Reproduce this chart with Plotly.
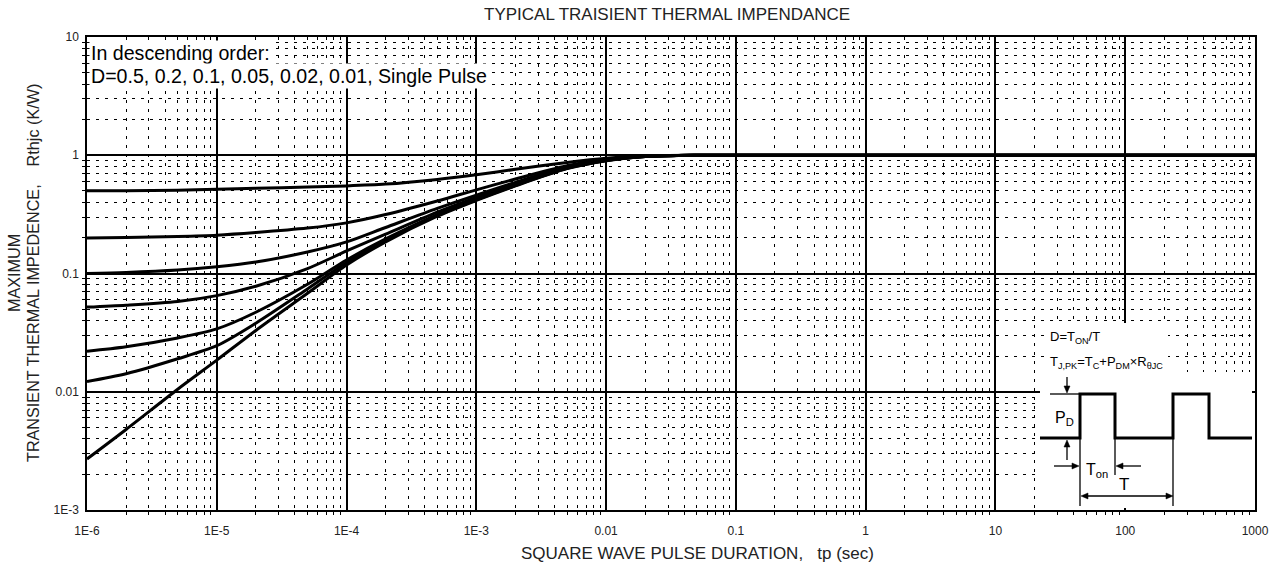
import plotly.graph_objects as go

# ---------------- data ----------------
tp = [1e-6, 2e-6, 5e-6, 1e-5, 2e-5, 5e-5, 1e-4, 2e-4, 5e-4, 1e-3, 2e-3, 5e-3,
      1e-2, 2e-2, 5e-2, 1e-1, 1e3]

z_d05 = [0.5, 0.502, 0.507, 0.515, 0.525, 0.538, 0.55, 0.57, 0.625, 0.685, 0.76, 0.87,
         0.945, 0.988, 1.0, 1.0, 1.0]
z_d02 = [0.2, 0.202, 0.206, 0.211, 0.222, 0.242, 0.268, 0.315, 0.41, 0.51, 0.63, 0.815,
         0.925, 0.982, 1.0, 1.0, 1.0]
z_d01 = [0.1, 0.102, 0.107, 0.114, 0.125, 0.152, 0.185, 0.245, 0.355, 0.46, 0.59, 0.795,
         0.915, 0.98, 1.0, 1.0, 1.0]
z_d005 = [0.052, 0.054, 0.058, 0.065, 0.078, 0.11, 0.155, 0.215, 0.33, 0.44, 0.575, 0.785,
          0.91, 0.978, 1.0, 1.0, 1.0]
z_d002 = [0.022, 0.024, 0.0285, 0.034, 0.047, 0.081, 0.13, 0.196, 0.315, 0.425, 0.56, 0.78,
          0.905, 0.977, 1.0, 1.0, 1.0]
z_d001 = [0.0122, 0.0142, 0.019, 0.0245, 0.038, 0.074, 0.124, 0.19, 0.31, 0.42, 0.555, 0.775,
          0.9, 0.975, 1.0, 1.0, 1.0]
z_single = [0.0027, 0.0048, 0.0105, 0.0185, 0.033, 0.068, 0.118, 0.185, 0.305, 0.415, 0.55, 0.77,
            0.9, 0.975, 1.0, 1.0, 1.0]

series_names = ["D=0.5", "D=0.2", "D=0.1", "D=0.05", "D=0.02", "D=0.01", "Single Pulse"]
series_values = [z_d05, z_d02, z_d01, z_d005, z_d002, z_d001, z_single]

x_tickvals = [1e-6, 1e-5, 1e-4, 1e-3, 1e-2, 1e-1, 1, 10, 100, 1000]
x_ticktext = ["1E-6", "1E-5", "1E-4", "1E-3", "0.01", "0.1", "1", "10", "100", "1000"]
y_tickvals = [1e-3, 1e-2, 1e-1, 1, 10]
y_ticktext = ["1E-3", "0.01", "0.1", "1", "10"]

NB = "\u00a0"
title_text = "TYPICAL TRAISIENT THERMAL IMPENDANCE"
x_title = "SQUARE WAVE PULSE DURATION," + NB * 3 + "tp (sec)"
y_title_1 = "MAXIMUM"
y_title_2 = "TRANSIENT THERMAL IMPEDENCE," + NB * 4 + "Rthjc (K/W)"
note_1 = "In descending order:"
note_2 = "D=0.5, 0.2, 0.1, 0.05, 0.02, 0.01, Single Pulse"

# ---------------- layout geometry (pixels) ----------------
W, H = 1283, 568
L, T = 87, 37
PW, PH = 1168, 473
R, B = W - L - PW, H - T - PH
FONT = "Liberation Sans, Arial, sans-serif"


def px(x):
    return (x - L) / PW


def py(y):
    return (T + PH - y) / PH


def ppath(points, close=False):
    s = "M " + " L ".join(f"{px(a):.5f},{py(b):.5f}" for a, b in points)
    return s + (" Z" if close else "")


minor_x = [m * 10 ** e for e in range(-6, 3) for m in range(2, 10)]
minor_y = [m * 10 ** e for e in range(-3, 1) for m in range(2, 10)]

fig = go.Figure()
for name, vals in zip(series_names, series_values):
    fig.add_trace(go.Scatter(x=tp, y=vals, mode="lines", name=name,
                             line=dict(color="black", width=3, shape="spline", smoothing=0.8),
                             showlegend=False, hoverinfo="skip"))

axis_common = dict(
    type="log", showgrid=True, gridcolor="black", gridwidth=1.5,
    showline=True, mirror=True, linecolor="black", linewidth=1.5,
    ticks="", zeroline=False,
    tickfont=dict(family=FONT, size=12, color="#222"),
)

fig.update_xaxes(
    **axis_common, range=[-6, 3], tickvals=x_tickvals, ticktext=x_ticktext,
    ticklabelstandoff=9,
    minor=dict(tickvals=minor_x, showgrid=True, gridcolor="black", gridwidth=1,
               griddash="3px,6px", ticks="outside", ticklen=3, tickcolor="black"),
)
fig.update_yaxes(
    **axis_common, range=[-3, 1], tickvals=y_tickvals, ticktext=y_ticktext,
    ticklabelstandoff=4,
    minor=dict(tickvals=minor_y, showgrid=True, gridcolor="black", gridwidth=1,
               griddash="3px,6px", ticks="outside", ticklen=3, tickcolor="black"),
)

shapes = []
# white backgrounds of the inset
shapes.append(dict(type="rect", xref="paper", yref="paper", x0=px(1045), x1=px(1168),
                   y0=py(372), y1=py(323), fillcolor="white", line=dict(width=0), layer="above"))
shapes.append(dict(type="rect", xref="paper", yref="paper", x0=px(1040), x1=px(1252),
                   y0=py(508), y1=py(372), fillcolor="white", line=dict(width=0), layer="above"))
# waveform
wave = [(1040, 438), (1080, 438), (1080, 394), (1115, 394), (1115, 438), (1173, 438),
        (1173, 394), (1209, 394), (1209, 438), (1252, 438)]
shapes.append(dict(type="path", xref="paper", yref="paper", path=ppath(wave),
                   line=dict(color="black", width=3), layer="above"))
# thin helper lines and arrow shafts
for (a0, b0, a1, b1) in [(1050, 394, 1080, 394), (1080, 438, 1080, 506),
                         (1115, 438, 1115, 475), (1173, 438, 1173, 506),
                         (1067, 377, 1067, 388), (1067, 460, 1067, 445),
                         (1054, 466, 1073, 466), (1141, 466, 1122, 466),
                         (1086, 496, 1168, 496)]:
    shapes.append(dict(type="line", xref="paper", yref="paper", x0=px(a0), y0=py(b0),
                       x1=px(a1), y1=py(b1), line=dict(color="black", width=1.3), layer="above"))
# arrow heads (filled triangles)
heads = [
    [(1067, 393), (1064, 386), (1070, 386)],   # down
    [(1067, 440), (1064, 447), (1070, 447)],   # up
    [(1079, 466), (1072, 463), (1072, 469)],   # right
    [(1116, 466), (1123, 463), (1123, 469)],   # left
    [(1081, 496), (1088, 493), (1088, 499)],   # double arrow, left end
    [(1173, 496), (1166, 493), (1166, 499)],   # double arrow, right end
]
for tri in heads:
    shapes.append(dict(type="path", xref="paper", yref="paper", path=ppath(tri, close=True),
                       fillcolor="black", line=dict(color="black", width=0.5), layer="above"))

annotations = []
annotations.append(dict(text=title_text, x=px(667), y=py(15), xref="paper", yref="paper",
                        showarrow=False, xanchor="center", yanchor="middle",
                        font=dict(family=FONT, size=17, color="#222")))
annotations.append(dict(text=x_title, x=px(519), y=py(553), xref="paper", yref="paper",
                        showarrow=False, xanchor="left", yanchor="middle",
                        font=dict(family=FONT, size=17, color="#222")))
annotations.append(dict(text=y_title_1, x=px(14), y=py(273), xref="paper", yref="paper",
                        showarrow=False, textangle=-90, xanchor="center", yanchor="middle",
                        font=dict(family=FONT, size=16.2, color="#222")))
annotations.append(dict(text=y_title_2, x=px(33), y=py(273), xref="paper", yref="paper",
                        showarrow=False, textangle=-90, xanchor="center", yanchor="middle",
                        font=dict(family=FONT, size=16.2, color="#222")))
annotations.append(dict(text=note_1, x=px(89), y=py(53), xref="paper", yref="paper",
                        showarrow=False, xanchor="left", yanchor="middle", bgcolor="white",
                        borderpad=1, font=dict(family=FONT, size=19.6, color="black")))
annotations.append(dict(text=note_2, x=px(89), y=py(76), xref="paper", yref="paper",
                        showarrow=False, xanchor="left", yanchor="middle", bgcolor="white",
                        borderpad=1, font=dict(family=FONT, size=19.6, color="black")))
# inset texts
annotations.append(dict(text="D=T<sub>ON</sub>/T", x=px(1048), y=py(337), xref="paper",
                        yref="paper", showarrow=False, xanchor="left", yanchor="middle",
                        font=dict(family=FONT, size=13, color="black")))
annotations.append(dict(text="T<sub>J,PK</sub>=T<sub>C</sub>+P<sub>DM</sub>×R<sub>θJC</sub>",
                        x=px(1048), y=py(362), xref="paper", yref="paper", showarrow=False,
                        xanchor="left", yanchor="middle",
                        font=dict(family=FONT, size=13, color="black")))
annotations.append(dict(text="P<sub>D</sub>", x=px(1064), y=py(418), xref="paper", yref="paper",
                        showarrow=False, xanchor="center", yanchor="middle",
                        font=dict(family=FONT, size=16, color="black")))
annotations.append(dict(text="T<sub>on</sub>", x=px(1097), y=py(470), xref="paper", yref="paper",
                        showarrow=False, xanchor="center", yanchor="middle",
                        font=dict(family=FONT, size=16, color="black")))
annotations.append(dict(text="T", x=px(1124), y=py(484), xref="paper", yref="paper",
                        showarrow=False, xanchor="center", yanchor="middle",
                        font=dict(family=FONT, size=17, color="black")))

fig.update_layout(
    width=W, height=H, autosize=False,
    margin=dict(l=L, r=R, t=T, b=B),
    paper_bgcolor="white", plot_bgcolor="white",
    shapes=shapes, annotations=annotations,
    font=dict(family=FONT, color="black"),
    hovermode=False,
)

fig.write_html("out.html", config={"displayModeBar": False},
               post_script="document.body.style.margin='0px';")
